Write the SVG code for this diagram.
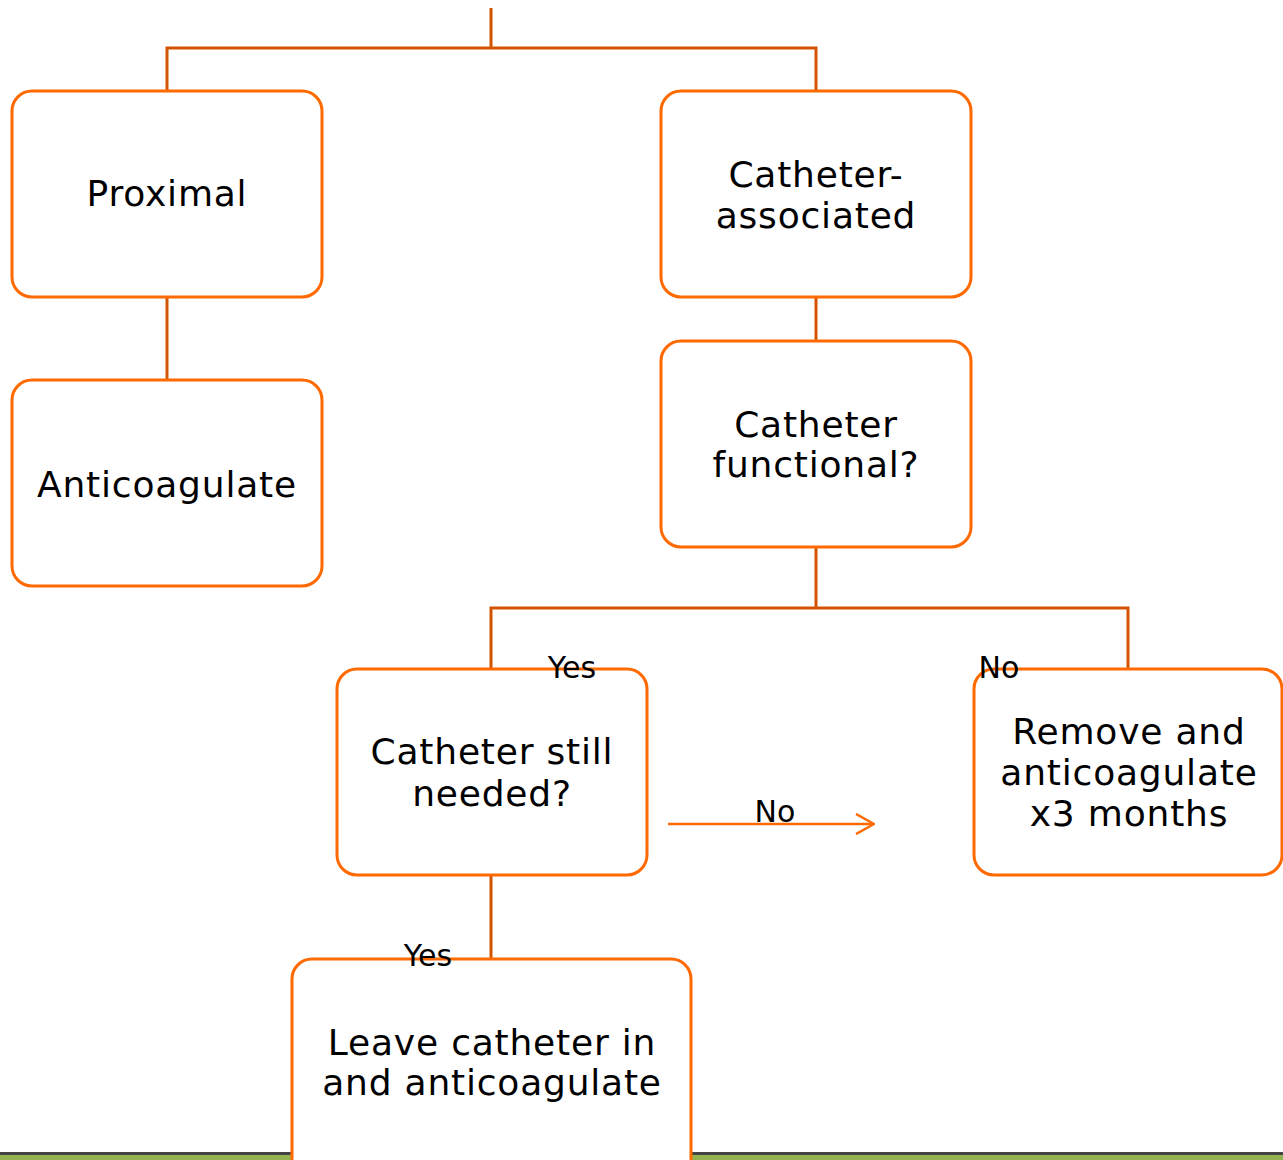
<svg xmlns="http://www.w3.org/2000/svg" width="1283" height="1160" viewBox="0 0 1283 1160">
<style>
.box{fill:#fff;stroke:#FF6A00;stroke-width:3}
.conn{fill:none;stroke:#D35400;stroke-width:3}
.t{font-family:"DejaVu Sans","Liberation Sans",sans-serif;font-size:36px;letter-spacing:0.8px;fill:#000;text-anchor:middle}
.l{font-family:"DejaVu Sans","Liberation Sans",sans-serif;font-size:30px;fill:#000;text-anchor:middle}
</style>
<defs>
<marker id="arr" viewBox="0 0 20 22" refX="19" refY="11" markerWidth="20" markerHeight="22" markerUnits="userSpaceOnUse" orient="auto">
<path d="M1,1 L19,11 L1,21" fill="none" stroke="#FF6A00" stroke-width="2.5"/>
</marker>
</defs>
<rect x="0" y="0" width="1283" height="1160" fill="#fff"/>
<rect x="0" y="1152" width="1283" height="3" fill="#444"/>
<rect x="0" y="1155" width="1283" height="5" fill="#93B250"/>
<g id="connectors">
<path class="conn" d="M491,8 V48 M167,91 V48 H816 V91"/>
<path class="conn" d="M167,297 V380"/>
<path class="conn" d="M816,297 V341"/>
<path class="conn" d="M816,547 V608 M491,669 V608 H1128 V669"/>
<path class="conn" d="M491,875 V959"/>
<path d="M668,824 H874" fill="none" stroke="#FF6A00" stroke-width="2.5" marker-end="url(#arr)"/>
</g>
<g id="proximal"><rect class="box" x="12" y="91" width="310" height="206" rx="20"/><text class="t" x="167" y="206">Proximal</text></g>
<g id="anticoagulate"><rect class="box" x="12" y="380" width="310" height="206" rx="20"/><text class="t" x="167" y="497">Anticoagulate</text></g>
<g id="catheter-associated"><rect class="box" x="661" y="91" width="310" height="206" rx="20"/><text class="t" x="816" y="187">Catheter-</text><text class="t" x="816" y="228">associated</text></g>
<g id="catheter-functional"><rect class="box" x="661" y="341" width="310" height="206" rx="20"/><text class="t" x="816" y="437">Catheter</text><text class="t" x="816" y="477">functional?</text></g>
<g id="catheter-needed"><rect class="box" x="337" y="669" width="310" height="206" rx="20"/><text class="t" x="492" y="764">Catheter still</text><text class="t" x="492" y="806">needed?</text></g>
<g id="remove"><rect class="box" x="974" y="669" width="308" height="206" rx="20"/><text class="t" x="1129" y="744">Remove and</text><text class="t" x="1129" y="785">anticoagulate</text><text class="t" x="1129" y="826">x3 months</text></g>
<g id="leave"><rect class="box" x="292" y="959" width="399" height="220" rx="20"/><text class="t" x="492" y="1055">Leave catheter in</text><text class="t" x="492" y="1095">and anticoagulate</text></g>
<g id="labels">
<text class="l" x="572" y="678">Yes</text>
<text class="l" x="999" y="678">No</text>
<text class="l" x="775" y="822">No</text>
<text class="l" x="428" y="966">Yes</text>
</g>
</svg>
